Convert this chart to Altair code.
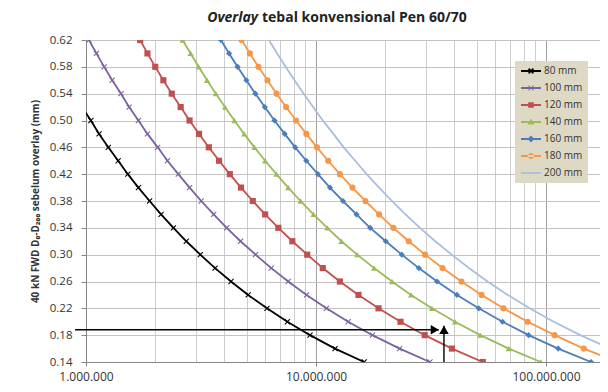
import altair as alt
import pandas as pd

FONT = "Open Sans"

# ---- data (repetitions in millions) ----
series_names = ["80 mm", "100 mm", "120 mm", "140 mm", "160 mm", "180 mm", "200 mm"]
colors = ["#000000", "#7B62A0", "#C0504D", "#9BBB59", "#4A7EBB", "#F79646", "#A9BEDD"]

levels_full = [0.62, 0.60, 0.58, 0.56, 0.54, 0.52, 0.50, 0.48, 0.46, 0.44, 0.42, 0.40, 0.38,
               0.36, 0.34, 0.32, 0.30, 0.28, 0.26, 0.24, 0.22, 0.20, 0.18, 0.16, 0.14]
levels_80 = [0.52, 0.50, 0.48, 0.46, 0.44, 0.42, 0.40, 0.38, 0.36, 0.34, 0.32, 0.30, 0.28,
             0.26, 0.24, 0.22, 0.20, 0.18, 0.16, 0.14]

n_80 = [0.96, 1.05, 1.14, 1.25, 1.38, 1.52, 1.69, 1.89, 2.12, 2.40, 2.73, 3.14, 3.64, 4.27,
        5.07, 6.12, 7.51, 9.42, 12.1, 16.2]
n_100 = [1.03, 1.11, 1.20, 1.30, 1.42, 1.54, 1.69, 1.85, 2.05, 2.26, 2.52, 2.82, 3.17, 3.59,
         4.09, 4.70, 5.46, 6.39, 7.57, 9.10, 11.1, 13.8, 17.6, 23.1, 31.3]
n_120 = [1.72, 1.85, 2.00, 2.17, 2.36, 2.58, 2.82, 3.10, 3.42, 3.79, 4.22, 4.72, 5.31, 6.01,
         6.86, 7.89, 9.16, 10.7, 12.7, 15.3, 18.7, 23.3, 29.7, 39.0, 53.1]
n_140 = [2.63, 2.85, 3.09, 3.36, 3.67, 4.02, 4.42, 4.87, 5.40, 6.01, 6.73, 7.57, 8.56, 9.75,
         11.2, 12.9, 15.1, 17.9, 21.4, 25.9, 31.9, 40.2, 51.8, 68.9, 95.0]
n_160 = [3.86, 4.19, 4.56, 4.98, 5.45, 5.99, 6.60, 7.31, 8.12, 9.07, 10.2, 11.5, 13.1, 15.0,
         17.2, 20.1, 23.6, 28.0, 33.6, 41.0, 51.0, 64.7, 84.0, 113.0, 157.0]
n_180 = [4.75, 5.16, 5.62, 6.15, 6.74, 7.41, 8.19, 9.08, 10.1, 11.3, 12.7, 14.4, 16.4, 18.8,
         21.7, 25.3, 29.8, 35.5, 42.9, 52.5, 65.3, 83.2, 109.0, 146.0, 205.0]
n_200 = [6.24, 6.78, 7.38, 8.06, 8.84, 9.72, 10.7, 11.9, 13.2, 14.8, 16.6, 18.8, 21.4, 24.5,
         28.3, 33.0, 38.9, 46.2, 55.7, 68.2, 84.9, 108.0, 141.0, 190.0, 265.0]

# arrow annotation (reading example)
arrow_h_x = [0.896e6, 3.42e7]
arrow_h_y = 0.188
arrow_v_x = 3.6e7
arrow_v_y = [0.14, 0.194]

y_ticks = [0.14, 0.18, 0.22, 0.26, 0.30, 0.34, 0.38, 0.42, 0.46, 0.50, 0.54, 0.58, 0.62]
x_major = [1000000, 10000000, 100000000]
x_major_labels = ["1.000.000", "10.000.000", "100.000.000"]
x_grid = [m * 10 ** e for e in (6, 7) for m in range(1, 10)] + [100000000]
x_max = 1.717e8

title_italic = "Overlay"
title_rest = "tebal konvensional Pen 60/70"
y_title = "40 kN FWD D\u2080-D\u2082\u2080\u2080 sebelum overlay (mm)"

# ---- tables ----
all_series = [(series_names[0], levels_80, n_80), (series_names[1], levels_full, n_100),
              (series_names[2], levels_full, n_120), (series_names[3], levels_full, n_140),
              (series_names[4], levels_full, n_160), (series_names[5], levels_full, n_180),
              (series_names[6], levels_full, n_200)]
rows = []
for name, lv, vals in all_series:
    for i, (d, n) in enumerate(zip(lv, vals)):
        rows.append({"series": name, "D": d, "N": n * 1e6, "i": i})
df = pd.DataFrame(rows)

xscale = alt.Scale(type="log", domain=[1e6, x_max], nice=False)
yscale = alt.Scale(domain=[0.14, 0.62], nice=False, zero=False)
cscale = alt.Scale(domain=series_names, range=colors)

label_expr = "".join(f"datum.value == {v} ? '{l}' : " for v, l in zip(x_major, x_major_labels)) + "''"
major_test = "indexof([" + ",".join(str(v) for v in x_major) + "], datum.value) >= 0"

xaxis = alt.Axis(values=x_grid, labelExpr=label_expr, title=None,
                 gridColor={"condition": {"test": major_test, "value": "#A0A0A0"}, "value": "#CDCDCD"},
                 tickColor={"condition": {"test": major_test, "value": "#868686"}, "value": "transparent"},
                 tickSize=4, labelPadding=5, labelFont=FONT, labelFontSize=12, labelColor="#333333",
                 domainColor="#868686", labelFlush=False, labelOverlap=False)
yaxis = alt.Axis(values=y_ticks, format=".2f", gridColor="#C4C4C4", tickColor="#868686", tickSize=5,
                 labelPadding=9, labelFont=FONT, labelFontSize=11.5, labelColor="#333333",
                 labelOverlap=False, labelFlush=False,
                 domainColor="#868686", title=y_title, titleFont=FONT, titleFontSize=10,
                 titleFontWeight="bold", titleColor="#333333", titlePadding=9)

# legend symbols: line + marker, unit r = sqrt(size)/2
LINE = "M-1,-0.22H4V0.22H-1Z"
def xpoly(c, w, t):
    return (f"M{c-w+t},{-w}L{c+w},{w-t}L{c+w-t},{w}L{c-w},{-w+t}Z"
            f"M{c-w},{w-t}L{c+w-t},{-w}L{c+w},{-w+t}L{c-w+t},{w}Z")
sym = {
    "80 mm": LINE + xpoly(1.5, 0.75, 0.3),
    "100 mm": LINE + xpoly(1.5, 0.7, 0.15),
    "120 mm": LINE + "M0.8,-0.7H2.2V0.7H0.8Z",
    "140 mm": LINE + "M1.5,-0.85L2.35,0.65H0.65Z",
    "160 mm": LINE + "M1.5,-0.85L2.35,0L1.5,0.85L0.65,0Z",
    "180 mm": LINE + "M0.75,0A0.75,0.75 0 1,0 2.25,0A0.75,0.75 0 1,0 0.75,0Z",
    "200 mm": LINE,
}
sym_expr = "".join(f"datum.value == '{k}' ? '{v}' : " for k, v in sym.items()) + "'circle'"

legend = alt.Legend(title=None, orient="none", legendX=429, legendY=21, fillColor="#DDD9C4",
                    padding=5, rowPadding=7, labelFont=FONT, labelFontSize=10, labelColor="#333333",
                    symbolType={"expr": sym_expr}, symbolSize=64, symbolStrokeWidth=0,
                    symbolFillColor={"expr": "scale('color', datum.value)"}, labelOffset=14)

X = alt.X("N:Q", scale=xscale, axis=xaxis)
Y = alt.Y("D:Q", scale=yscale, axis=yaxis)

lines = alt.Chart(df).mark_line(clip=True, strokeWidth=1.8).encode(
    x=X, y=Y, color=alt.Color("series:N", scale=cscale, legend=legend), order="i:Q")

filled_names = ["120 mm", "140 mm", "160 mm", "180 mm"]
filled_pts = alt.Chart(df[df.series.isin(filled_names)]).mark_point(
    filled=True, opacity=1, clip=True, size=38).encode(
    x=X, y=Y, color=alt.Color("series:N", scale=cscale, legend=None),
    shape=alt.Shape("series:N", scale=alt.Scale(domain=filled_names,
                                                range=["square", "triangle-up", "diamond", "circle"]),
                    legend=None))

x_names = ["80 mm", "100 mm"]
x_pts = alt.Chart(df[df.series.isin(x_names)]).mark_point(
    shape="M-1,-1L1,1M-1,1L1,-1", filled=False, opacity=1, clip=True, size=26, strokeWidth=1.1).encode(
    x=X, y=Y, color=alt.Color("series:N", scale=cscale, legend=None))

ah = pd.DataFrame({"N": [arrow_h_x[0]], "x2": [arrow_h_x[1]], "D": [arrow_h_y]})
av = pd.DataFrame({"N": [arrow_v_x], "D": [arrow_v_y[0]], "y2": [arrow_v_y[1]]})
rule_h = alt.Chart(ah).mark_rule(color="black", strokeWidth=1.4).encode(
    x=X, x2="x2:Q", y=Y)
rule_v = alt.Chart(av).mark_rule(color="black", strokeWidth=1.4).encode(
    x=X, y=Y, y2="y2:Q")
head_h = alt.Chart(pd.DataFrame({"N": [arrow_h_x[1]], "D": [arrow_h_y]})).mark_point(
    shape="triangle-right", filled=True, color="black", opacity=1, size=90, xOffset=-4).encode(
    x=X, y=Y)
head_v = alt.Chart(pd.DataFrame({"N": [arrow_v_x], "D": [arrow_v_y[1]]})).mark_point(
    shape="triangle-up", filled=True, color="black", opacity=1, size=90, yOffset=4).encode(
    x=X, y=Y)

t1 = alt.Chart(pd.DataFrame({"t": [title_italic]})).mark_text(
    font=FONT, fontSize=14, fontWeight="bold", fontStyle="italic", align="right",
    baseline="middle", color="#222222").encode(text="t:N", x=alt.value(172), y=alt.value(-22))
t2 = alt.Chart(pd.DataFrame({"t": [title_rest]})).mark_text(
    font=FONT, fontSize=14, fontWeight="bold", align="left",
    baseline="middle", color="#222222").encode(text="t:N", x=alt.value(176), y=alt.value(-22))

chart = alt.layer(lines, filled_pts, x_pts, rule_h, rule_v, head_h, head_v, t1, t2).properties(
    width=514, height=322,
    autosize=alt.AutoSizeParams(type="none"),
    padding={"left": 78, "top": 32, "right": 0, "bottom": 22},
).configure_view(stroke=None).configure(font=FONT)

chart.save("out.html", embed_options={"renderer": "svg", "actions": False})
